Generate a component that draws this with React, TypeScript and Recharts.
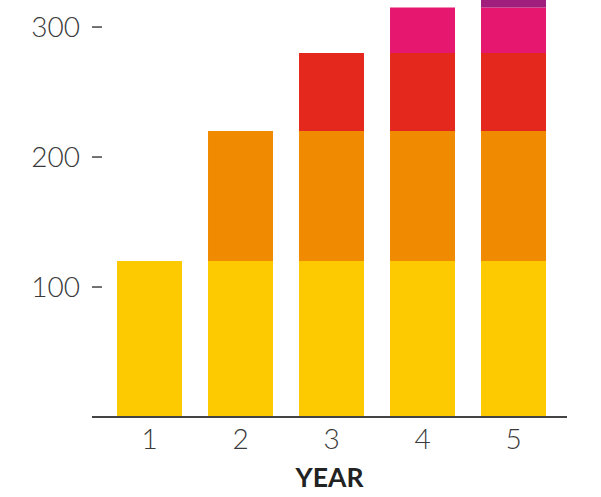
import React from "react";
import { BarChart, Bar, XAxis, YAxis } from "recharts";

const years = ["1", "2", "3", "4", "5"];
const base = [120, 120, 120, 120, 120];
const second = [0, 100, 100, 100, 100];
const third = [0, 0, 60, 60, 60];
const fourth = [0, 0, 0, 35, 35];
const fifth = [0, 0, 0, 0, 25];
const yTicks = [100, 200, 300];

const data = years.map((y, i) => ({
  year: y,
  s1: base[i],
  s2: second[i],
  s3: third[i],
  s4: fourth[i],
  s5: fifth[i],
}));

const FONT = "Lato, 'Open Sans', sans-serif";

const YTick = (props: any) => {
  const { x, y, payload } = props;
  return (
    <g>
      <text x={x - 12} y={y} dy={10} textAnchor="end" fontFamily={FONT} fontWeight={300} fontSize={28} fill="#3a3a3a">
        {payload.value}
      </text>
      <line x1={x} x2={x + 10} y1={y} y2={y} stroke="#444" strokeWidth={1.5} />
    </g>
  );
};

const XTick = (props: any) => {
  const { x, y, payload } = props;
  return (
    <text x={x} y={y + 32} textAnchor="middle" fontFamily={FONT} fontWeight={300} fontSize={28} fill="#3a3a3a">
      {payload.value}
    </text>
  );
};

const YearLabel = (props: any) => {
  const vb = props.viewBox;
  return (
    <text x={vb.x + vb.width / 2} y={vb.y + 70} textAnchor="middle" fontFamily={FONT} fontWeight={700} fontSize={26.5} fill="#222">
      YEAR
    </text>
  );
};

export default function App() {
  return (
    <div style={{ position: "absolute", left: 0, top: 0, width: 601, height: 497, background: "#fff" }}>
      <BarChart width={601} height={497} data={data} margin={{ top: 0, right: 34, bottom: 0, left: 0 }} barCategoryGap="14.3%">
        <XAxis
          dataKey="year"
          height={80}
          tickLine={false}
          tickSize={0}
          tickMargin={0}
          axisLine={{ stroke: "#444", strokeWidth: 2 }}
          padding={{ left: 12, right: 8 }}
          tick={<XTick />}
          label={<YearLabel />}
        />
        <YAxis
          width={92}
          domain={[0, 320.8]}
          allowDataOverflow
          ticks={yTicks}
          axisLine={false}
          tickLine={false}
          tickSize={0}
          tickMargin={0}
          tick={<YTick />}
        />
        <Bar dataKey="s1" stackId="a" fill="#FDC900" isAnimationActive={false} />
        <Bar dataKey="s2" stackId="a" fill="#F08A00" isAnimationActive={false} />
        <Bar dataKey="s3" stackId="a" fill="#E5281E" isAnimationActive={false} />
        <Bar dataKey="s4" stackId="a" fill="#E5176F" isAnimationActive={false} />
        <Bar dataKey="s5" stackId="a" fill="#A01F7D" isAnimationActive={false} />
      </BarChart>
    </div>
  );
}
